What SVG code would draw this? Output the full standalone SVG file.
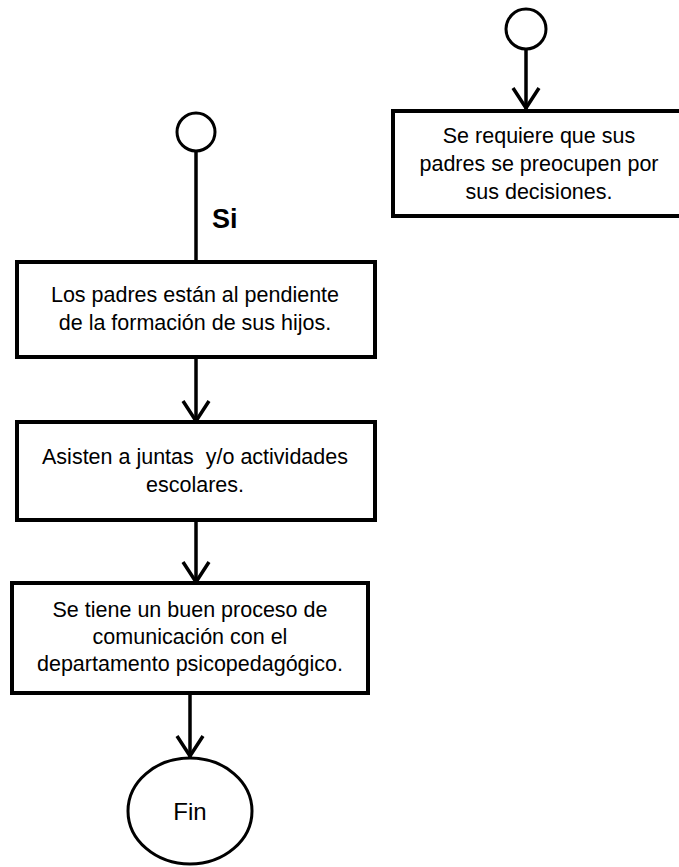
<svg xmlns="http://www.w3.org/2000/svg" width="679" height="867" viewBox="0 0 679 867">
<style>
.box{fill:#fff;stroke:#000;stroke-width:4}
.term{fill:#fff;stroke:#000;stroke-width:3}
.ln{fill:none;stroke:#000;stroke-width:3.5}
.hd{fill:none;stroke:#000;stroke-width:3.5;stroke-linejoin:miter}
.t{font-family:"Liberation Sans",Arial,sans-serif;font-size:21.5px;fill:#000;text-anchor:middle}
.f{font-family:"Liberation Sans",Arial,sans-serif;font-size:24px;fill:#000;text-anchor:middle}
.b{font-family:"Liberation Sans",Arial,sans-serif;font-size:27px;font-weight:bold;fill:#000}
</style>
<rect width="679" height="867" fill="#fff"/>
<g id="connectors">
<line class="ln" x1="526" y1="48" x2="526" y2="109"/>
<polyline class="hd" points="513,88 526,108 539,88"/>
<line class="ln" x1="196" y1="151" x2="196" y2="262"/>
<line class="ln" x1="196" y1="357" x2="196" y2="421"/>
<polyline class="hd" points="183,401 196,421 209,401"/>
<line class="ln" x1="196" y1="520" x2="196" y2="582"/>
<polyline class="hd" points="183,562 196,582 209,562"/>
<line class="ln" x1="190" y1="693" x2="190" y2="757"/>
<polyline class="hd" points="177,736 190,756 203,736"/>
<text class="b" x="212" y="228">Si</text>
</g>
<g id="start-right">
<circle class="term" cx="526" cy="29" r="20"/>
</g>
<g id="box-requiere">
<rect class="box" x="393" y="111" width="292" height="105"/>
<text class="t" x="539" y="143">Se requiere que sus</text>
<text class="t" x="539" y="171">padres se preocupen por</text>
<text class="t" x="539" y="199">sus decisiones.</text>
</g>
<g id="start-left">
<circle class="term" cx="196" cy="132" r="19"/>
</g>
<g id="box-padres">
<rect class="box" x="17" y="262" width="358" height="95"/>
<text class="t" x="195" y="302">Los padres están al pendiente</text>
<text class="t" x="195" y="330">de la formación de sus hijos.</text>
</g>
<g id="box-asisten">
<rect class="box" x="17" y="422" width="358" height="98"/>
<text class="t" x="195" y="464" xml:space="preserve">Asisten a juntas  y/o actividades</text>
<text class="t" x="195" y="492">escolares.</text>
</g>
<g id="box-comunicacion">
<rect class="box" x="12" y="583" width="356" height="110"/>
<text class="t" x="190" y="617">Se tiene un buen proceso de</text>
<text class="t" x="190" y="644">comunicación con el</text>
<text class="t" x="190" y="671">departamento psicopedagógico.</text>
</g>
<g id="fin">
<ellipse class="term" cx="190" cy="811" rx="62" ry="53"/>
<text class="f" x="190" y="820">Fin</text>
</g>
</svg>
